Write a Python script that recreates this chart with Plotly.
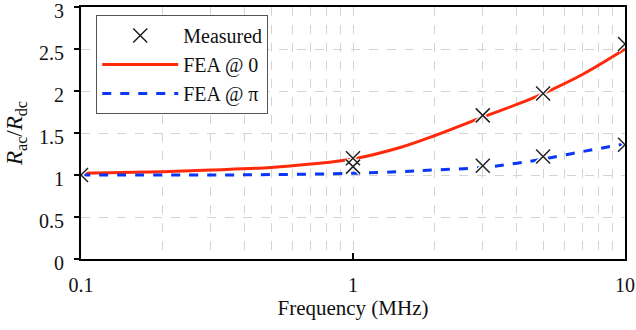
import plotly.graph_objects as go

# Measured points (MHz, Rac/Rdc)
meas_freq = [0.1, 1, 1, 3, 3, 5, 5, 10, 10]
meas_ratio = [1.00, 1.20, 1.10, 1.71, 1.11, 1.97, 1.22, 2.56, 1.36]

# FEA @ 0
fea0_freq = [0.1, 0.2, 0.3, 0.5, 0.7, 1, 1.5, 2, 3, 4, 5, 7, 10]
fea0_ratio = [1.02, 1.04, 1.06, 1.09, 1.13, 1.19, 1.33, 1.47, 1.69, 1.84, 1.97, 2.20, 2.50]

# FEA @ pi
feapi_freq = [0.1, 0.3, 0.5, 1, 1.5, 2, 3, 4, 5, 7, 10]
feapi_ratio = [1.00, 1.00, 1.005, 1.02, 1.04, 1.06, 1.09, 1.14, 1.19, 1.28, 1.37]

x_ticks = [0.1, 1, 10]
x_ticklabels = ["0.1", "1", "10"]
y_ticks = [0, 0.5, 1, 1.5, 2, 2.5, 3]
y_ticklabels = ["0", "0.5", "1", "1.5", "2", "2.5", "3"]

FONT = "Times New Roman"
GRID = "#d4d4d4"

fig = go.Figure()
fig.add_trace(go.Scatter(x=fea0_freq, y=fea0_ratio, mode="lines", name="FEA @ 0",
                         line=dict(color="#ff2a0a", width=3, shape="spline"), showlegend=False))
fig.add_trace(go.Scatter(x=feapi_freq, y=feapi_ratio, mode="lines", name="FEA @ π",
                         line=dict(color="#0a37f5", width=3, dash="dash", shape="spline"), showlegend=False))
# white halo behind markers
fig.add_trace(go.Scatter(x=meas_freq, y=meas_ratio, mode="markers", showlegend=False, hoverinfo="skip",
                         marker=dict(symbol="x-thin", size=14, line=dict(color="white", width=4))))
fig.add_trace(go.Scatter(x=meas_freq, y=meas_ratio, mode="markers", name="Measured",
                         marker=dict(symbol="x-thin", size=14, color="#222", line=dict(color="#222", width=1.5))))
# legend entries in order
fig.add_trace(go.Scatter(x=[None], y=[None], mode="lines", name="FEA @ 0",
                         line=dict(color="#ff2a0a", width=3)))
fig.add_trace(go.Scatter(x=[None], y=[None], mode="lines", name="FEA @ π",
                         line=dict(color="#0a37f5", width=3, dash="dash")))

fig.update_layout(
    width=636, height=330,
    margin=dict(l=81, r=11, t=7, b=71),
    paper_bgcolor="white", plot_bgcolor="white",
    font=dict(family=FONT, size=20, color="#111"),
    legend=dict(x=0.028, y=0.968, xanchor="left", yanchor="top",
                bordercolor="#555", borderwidth=1, bgcolor="white", itemwidth=76,
                entrywidth=170, entrywidthmode="pixels",
                font=dict(family=FONT, size=20), tracegroupgap=0),
    xaxis=dict(type="log", range=[-1, 1], tickvals=x_ticks, ticktext=x_ticklabels,
               showline=True, linecolor="black", linewidth=2, mirror=True, automargin=False,
               ticks="inside", ticklen=6, tickcolor="black", tickwidth=1.5,
               showgrid=True, gridcolor=GRID, griddash="dash", gridwidth=1,
               minor=dict(dtick="D1", showgrid=True, gridcolor=GRID, griddash="dash", gridwidth=1, ticks=""),
               title=dict(text="Frequency (MHz)", font=dict(family=FONT, size=21), standoff=2),
               ticklabelstandoff=7, ticklabeloverflow="allow", zeroline=False),
    yaxis=dict(range=[0, 3], tickvals=y_ticks, ticktext=y_ticklabels,
               showline=True, linecolor="black", linewidth=2, mirror=True, automargin=False,
               ticks="outside", ticklen=5, tickcolor="black", tickwidth=1.5,
               showgrid=True, gridcolor=GRID, griddash="dash", gridwidth=1,
               title=dict(text="<i>R</i><sub>ac</sub>/<i>R</i><sub>dc</sub>", font=dict(family=FONT, size=23), standoff=10),
               ticklabelstandoff=6, ticklabelshift=4, ticklabeloverflow="allow", zeroline=False),
)

fig.write_html("out.html")
